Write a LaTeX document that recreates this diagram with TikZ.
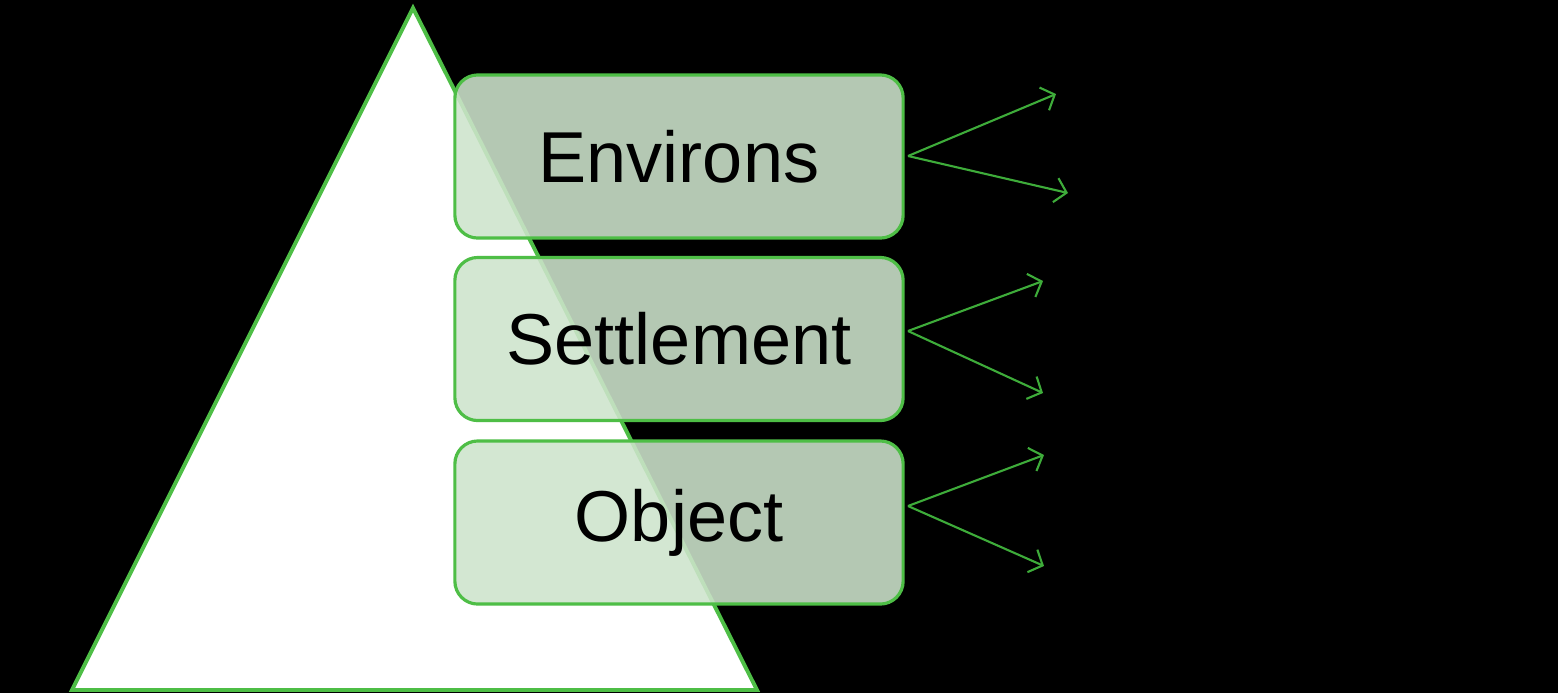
\documentclass[tikz,border=0pt]{standalone}
\usepackage{fontspec}
\setmainfont{Liberation Sans}
\usetikzlibrary{arrows.meta}
\definecolor{leafline}{RGB}{78,190,70}
\definecolor{leaffill}{RGB}{206,228,204}
\definecolor{forkline}{RGB}{62,172,58}

\begin{document}
\begin{tikzpicture}[x=0.01cm,y=-0.01cm,
	level/.style={draw=leafline,line width=0.9pt,fill=leaffill,fill opacity=0.88,text opacity=1,
		rounded corners=6.5pt,minimum width=4.48cm,minimum height=1.63cm,inner sep=0pt,
		font=\fontsize{20.5}{24}\selectfont},
	fork/.style={draw=forkline,line width=0.6pt,-{Straight Barb[length=3.2pt,width=7pt]}}]
	%Background
		\fill [black] (0, 0) rectangle (1558, 693);
		\useasboundingbox (0, 0) rectangle (1558, 693);
	%Pyramid
		\draw [fill=white,draw=leafline,line width=1.1pt] (413, 8) -- (757, 690) -- (72, 690) -- cycle;
	%Levels
		\node [level] (env) at (679, 156.5) {Environs};
		\node [level] (sett) at (679, 339) {Settlement};
		\node [level] (obj) at (679, 522.5) {Object};
	%Fork points and arrow ends
		\coordinate (envfork) at (908, 156);
		\coordinate (envup) at (1056, 94);
		\coordinate (envdown) at (1068, 193);
		\coordinate (settfork) at (908, 331);
		\coordinate (settup) at (1043, 281);
		\coordinate (settdown) at (1043, 393);
		\coordinate (objfork) at (908, 506);
		\coordinate (objup) at (1044, 455);
		\coordinate (objdown) at (1044, 566);
	%Arrows
		\draw [fork] (envfork) -- (envup);
		\draw [fork] (envfork) -- (envdown);
		\draw [fork] (settfork) -- (settup);
		\draw [fork] (settfork) -- (settdown);
		\draw [fork] (objfork) -- (objup);
		\draw [fork] (objfork) -- (objdown);
\end{tikzpicture}
\end{document}
